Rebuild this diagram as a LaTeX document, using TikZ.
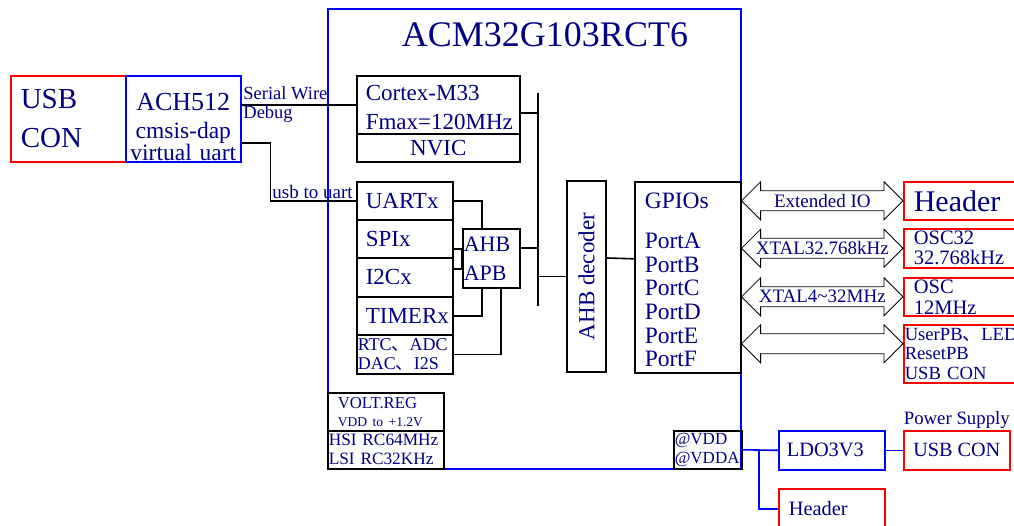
\documentclass[tikz,border=0pt]{standalone}
\usepackage{fontspec}
\setmainfont{Liberation Serif}
\newfontfamily\cjk{Noto Sans CJK SC}
\usetikzlibrary{calc,positioning}
\definecolor{txt}{RGB}{0,0,128}
\newcommand\setfs[2]{\fontsize{#1}{#2}\selectfont}
\newcommand\dun{{\cjk 、}}
\newcommand\upr[1]{\rule{0pt}{#1pt}}

\begin{document}
\begin{tikzpicture}[x=1pt,y=-1pt,
	blk/.style={draw=black,line width=1.6,anchor=north west,text=txt,inner ysep=0,inner xsep=1},
	blu/.style={blk,draw=blue},
	rd/.style={blk,draw=red},
	wh/.style 2 args={minimum width=#1,minimum height=#2},
	per/.style={blk,wh={96}{38},inner xsep=9,text width=78,align=left,font=\setfs{23}{25}},
	lbl/.style={text=txt,inner sep=1},
	ln/.style={line width=1.6},
	bl/.style={ln,draw=blue},
	arr/.style={line width=0.8}]
	\useasboundingbox (0,0) rectangle (1014,526);

	\node[blu,wh={413}{460}] (mcu) at (327,8) {};
	\node[lbl,font=\setfs{36}{40}] (title) at (545,35) {ACM32G103RCT6};

	\node[rd,wh={115}{86},inner xsep=10,text width=95,align=left,font=\setfs{29}{39}]    (usb)    at (10,75)   {USB\\CON};
	\node[blu,wh={115}{86},inner xsep=2,text width=111,align=center,font=\setfs{23.5}{20}] (ach) at (125,75)  {{\setfs{26}{20}\upr{33}ACH512}\\[8pt]cmsis-dap\\virtual uart};

	\node[blk,wh={163}{58},inner xsep=9,text width=145,align=left,font=\setfs{23}{29}]   (cortex) at (356,75)  {\upr{21}Cortex-M33\\Fmax=120MHz};
	\node[blk,wh={163}{28},font=\setfs{23}{25}]                                          (nvic)   at (356,133) {NVIC};
	\node[per]                  (uart) at (356,181) {UARTx};
	\node[per]                  (spi)  at (356,219) {SPIx};
	\node[per,wh={96}{39}]      (i2c)  at (356,257) {I2Cx};
	\node[per]                  (tim)  at (356,296) {TIMERx};
	\node[blk,wh={96}{39},text width=94,align=left,font=\setfs{18}{19}]                   (rtc)    at (356,334) {RTC\dun ADC\\DAC\dun I2S};
	\node[blk,wh={57}{59},text width=55,align=left,font=\setfs{22}{29}]                   (ahb)    at (462,228) {AHB\\APB};
	\node[blk,anchor=center,rotate=90,wh={191}{39},font=\setfs{23}{25}]                   (dec)    at (586.5,276.5) {AHB decoder};
	\node[blk,wh={106}{191},inner xsep=10,text width=86,align=left,font=\setfs{23.5}{23.6}] (gpio) at (634,181) {\upr{21}GPIOs\\[16.4pt]PortA\\PortB\\PortC\\PortD\\PortE\\PortF};

	\node[rd,wh={115}{38},inner xsep=10,text width=95,align=left,font=\setfs{30}{32}]     (hdr)    at (903,181) {Header};
	\node[rd,wh={115}{39},inner xsep=10,text width=95,align=left,font=\setfs{20.5}{20}]   (osc32)  at (903,228) {OSC32\\32.768kHz};
	\node[rd,wh={115}{38},inner xsep=10,text width=95,align=left,font=\setfs{20.5}{21}]   (osc)    at (903,277) {OSC\\12MHz};
	\node[rd,wh={115}{58},text width=113,align=left,font=\setfs{18.6}{19.5}]              (usr)    at (903,324) {UserPB\dun LED\\ResetPB\\USB CON};

	\node[blk,wh={116}{38},inner xsep=10,text width=96,align=left,font=\setfs{16.7}{18}]  (vreg)   at (327,392) {VOLT.REG\\{\setfs{13.5}{18}VDD to +1.2V}};
	\node[blk,wh={116}{38},text width=114,align=left,font=\setfs{17.3}{19}]               (hsi)    at (327,430) {HSI RC64MHz\\LSI RC32KHz};
	\node[blk,wh={68}{38},text width=66,align=left,font=\setfs{17}{19}]                   (vdd)    at (673,430) {@VDD\\@VDDA};
	\node[blu,wh={106}{39},inner xsep=8,text width=90,align=left,font=\setfs{20.4}{22}]   (ldo)    at (778,430) {LDO3V3};
	\node[rd,wh={106}{39},font=\setfs{20.2}{22}]                                          (pwr)    at (903,430) {USB CON};
	\node[lbl,above=0pt of pwr,font=\setfs{18.8}{20}]                                      (pwrlbl) {Power Supply};
	\node[rd,wh={106}{40},inner xsep=10,text width=86,align=left,font=\setfs{20.4}{22}]   (hdr2)   at (778,488) {Header};

	\coordinate (bt) at (538,93);
	\coordinate (bb) at (538,306);
	\coordinate (vj) at (759,449);

	% debug and uart links
	\draw[ln] (ach.east |- cortex.west) -- (cortex.west) node[lbl,pos=0,anchor=west,align=left,font=\setfs{18.5}{19}] {Serial Wire\\Debug};
	\draw[ln] ([yshift=-24]ach.east) -- ++(29,0) |- (uart.west) node[lbl,pos=0.5,anchor=south west,font=\setfs{19}{20}] {usb to uart};

	% bus
	\draw[ln] (bt) -- (bb);
	\draw[ln] ($(cortex.east)+(0,8)$) -| (bt);
	\draw[ln] ($(ahb.east)+(0,-10)$) -| (bt);
	\draw[ln] (bb |- dec.north) -- (dec.north);
	\draw[ln] ($(dec.south)+(0,-18.5)$) -- ($(gpio.west)+(0,-18.5)$);

	\draw[ln] (uart.east) -| ($(ahb.north)+(-9.5,0)$);
	\foreach \u/\dy in {spi/10, i2c/-8.5}
	{	\draw[ln] ($(\u.east)+(0,\dy)$) -| (ahb.west);
	}
	\draw[ln] (tim.east) -| ($(ahb.south)+(-9.5,0)$);
	\draw[ln] (rtc.east) -| ($(ahb.south)+(9.5,0)$);

	% io arrows
	\foreach \b/\dy/\t in {hdr/0/Extended IO, osc32/0/XTAL32.768kHz, osc/0/XTAL4\textasciitilde32MHz, usr/-10/{}}
	{	\coordinate (al) at ($(gpio.east |- \b.west)+(0,\dy)$);
		\coordinate (ar) at ($(\b.west)+(0,\dy)$);
		\draw[arr] (al) -- ++(19,-19) -- ++(0,9) -- ($(ar)+(-19,-10)$) -- ++(0,-9) -- (ar) -- ++(-19,19) -- ++(0,-9) -- ($(al)+(19,10)$) -- ++(0,9) -- cycle;
		\path (al) -- (ar) node[midway,lbl,font=\setfs{19}{20}] {\t};
	}

	% power
	\draw[bl] (vdd.east) -- (ldo.west);
	\draw[bl] (vj) |- (hdr2.west);
	\draw[bl] (ldo.east) -- (pwr.west);
\end{tikzpicture}
\end{document}
